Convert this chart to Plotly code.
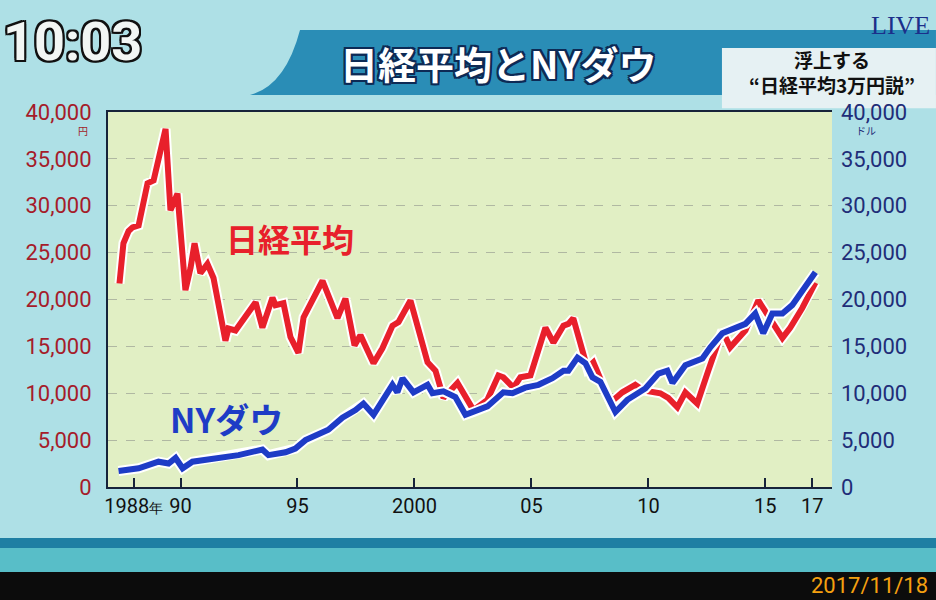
import plotly.graph_objects as go

# ---- data ----
nikkei_year = [1987.39, 1987.56, 1987.78, 1987.95, 1988.21, 1988.59, 1988.85, 1989.36, 1989.57, 1989.70,
               1989.87, 1990.21, 1990.43, 1990.60, 1990.85, 1991.15, 1991.41, 1991.92, 1992.05, 1992.35,
               1993.21, 1993.50, 1993.93, 1994.06, 1994.40, 1994.70, 1995.04, 1995.26, 1996.07, 1996.71,
               1997.05, 1997.44, 1997.69, 1998.25, 1998.63, 1999.06, 1999.32, 1999.83, 2000.56, 2000.90,
               2001.24, 2001.84, 2002.52, 2003.12, 2003.59, 2003.80, 2004.23, 2004.53, 2004.96, 2005.60,
               2005.94, 2006.37, 2006.58, 2006.79, 2007.39, 2007.65, 2008.38, 2008.89, 2009.44, 2009.79,
               2010.51, 2010.85, 2011.24, 2011.58, 2012.09, 2012.56, 2013.16, 2013.50, 2014.15, 2014.70,
               2015.00, 2015.30, 2015.73, 2016.07, 2016.58, 2017.14]
nikkei_value = [21700, 26000, 27300, 27700, 27900, 32400, 32700, 38200, 29500, 30500,
                31300, 21000, 23400, 26000, 22800, 23800, 22300, 15600, 16900, 16700,
                19700, 17000, 20200, 19400, 19600, 16000, 14300, 18100, 22000, 18000,
                20100, 15100, 16200, 13200, 14800, 17200, 17600, 19900, 13300, 12400,
                9500, 11100, 8200, 9300, 11900, 11700, 10600, 11700, 11900, 17000,
                15400, 17200, 17400, 18000, 12700, 13300, 9000, 10100, 10900, 10300,
                10000, 9500, 8500, 10100, 8900, 12400, 16700, 14900, 16700, 19900,
                18800, 17600, 15900, 17000, 19100, 21800]

dow_year = [1987.35, 1988.21, 1989.06, 1989.49, 1989.79, 1990.09, 1990.51, 1991.50, 1992.48, 1993.50,
            1993.76, 1994.49, 1994.91, 1995.34, 1995.90, 1996.32, 1996.92, 1997.48, 1997.82, 1998.25,
            1999.06, 1999.27, 1999.49, 1999.96, 2000.56, 2000.77, 2001.24, 2001.75, 2002.18, 2002.52,
            2003.12, 2003.80, 2004.19, 2004.74, 2005.30, 2005.90, 2006.37, 2006.58, 2006.97, 2007.31,
            2007.61, 2007.95, 2008.59, 2009.10, 2009.87, 2010.43, 2010.81, 2011.03, 2011.58, 2012.31,
            2012.65, 2013.16, 2013.72, 2014.15, 2014.57, 2014.91, 2015.30, 2015.73, 2016.15, 2016.62,
            2017.14]
dow_value = [1700, 2000, 2700, 2500, 3100, 2000, 2700, 3100, 3400, 4000,
             3400, 3700, 4100, 5000, 5700, 6100, 7400, 8200, 8900, 7700,
             10900, 10100, 11600, 10100, 10900, 10000, 10200, 9600, 7700, 8000,
             8600, 10100, 10000, 10600, 10900, 11600, 12400, 12400, 13800, 13200,
             11700, 11200, 8000, 9300, 10500, 12100, 12400, 11100, 13000, 13700,
             14900, 16400, 17000, 17400, 18500, 16400, 18500, 18500, 19400, 21000,
             22900]

x_tickvals = [1988, 1990, 1995, 2000, 2005, 2010, 2015, 2017]
x_ticktext = ["1988<span style='font-size:14px'>年</span>", "90", "95", "2000", "05", "10", "15", "17"]
y_tickvals = [0, 5000, 10000, 15000, 20000, 25000, 30000, 35000, 40000]
y_ticktext = ["0", "5,000", "10,000", "15,000", "20,000", "25,000", "30,000", "35,000", "40,000"]

RED = "#e8202b"
BLUE = "#1e3cc6"

fig = go.Figure()
fig.add_trace(go.Scatter(x=dow_year, y=dow_value, mode="lines", yaxis="y2",
                         line=dict(color="white", width=10), hoverinfo="skip", showlegend=False))
fig.add_trace(go.Scatter(x=dow_year, y=dow_value, mode="lines", yaxis="y2", name="NYダウ",
                         line=dict(color=BLUE, width=6), showlegend=False))
fig.add_trace(go.Scatter(x=nikkei_year, y=nikkei_value, mode="lines",
                         line=dict(color="white", width=10), hoverinfo="skip", showlegend=False))
fig.add_trace(go.Scatter(x=nikkei_year, y=nikkei_value, mode="lines", name="日経平均",
                         line=dict(color=RED, width=6), showlegend=False))

outline = ("-2px -2px 0 #0d2a55, 2px -2px 0 #0d2a55, -2px 2px 0 #0d2a55, 2px 2px 0 #0d2a55, "
           "0 -2px 0 #0d2a55, 0 2px 0 #0d2a55, -2px 0 0 #0d2a55, 2px 0 0 #0d2a55")
outline_dark = ("-2px -2px 0 #111, 2px -2px 0 #111, -2px 2px 0 #111, 2px 2px 0 #111, "
                "0 -2px 0 #111, 0 2px 0 #111, -2px 0 0 #111, 2px 0 0 #111")

shapes = [
    # title band
    dict(type="path", xref="paper", yref="paper", layer="below",
         path="M 0.2652,1.2187 L 1.1436,1.2187 L 1.1436,1.0453 L 0.1961,1.0453 Q 0.245,1.07 0.2652,1.2187 Z",
         fillcolor="#2a8db6", line=dict(width=0)),
    # right white caption box
    dict(type="rect", xref="paper", yref="paper", layer="below",
         x0=0.848, x1=1.1436, y0=1.01, y1=1.1707, fillcolor="#e6f1f3", line=dict(width=0)),
    # bottom stripes
    dict(type="rect", xref="paper", yref="paper", layer="below",
         x0=-0.15, x1=1.15, y0=-0.1627, y1=-0.136, fillcolor="#1e7fa3", line=dict(width=0)),
    dict(type="rect", xref="paper", yref="paper", layer="below",
         x0=-0.15, x1=1.15, y0=-0.2267, y1=-0.1627, fillcolor="#58bec8", line=dict(width=0)),
    dict(type="rect", xref="paper", yref="paper", layer="below",
         x0=-0.15, x1=1.15, y0=-0.31, y1=-0.2267, fillcolor="#0c0c0c", line=dict(width=0)),
]

annotations = [
    dict(text="日経平均", x=1994.7, y=26600, xref="x", yref="y", xanchor="center", yanchor="middle",
         showarrow=False, font=dict(family="Noto Sans CJK JP", size=32, color=RED, weight="bold")),
    dict(text="NYダウ", x=1991.95, y=7300, xref="x", yref="y", xanchor="center", yanchor="middle",
         showarrow=False, font=dict(family="Noto Sans CJK JP", size=34, color=BLUE, weight="bold")),
    dict(text="円", x=-0.025, y=0.952, xref="paper", yref="paper", xanchor="right", yanchor="middle",
         showarrow=False, font=dict(family="Noto Sans CJK JP", size=10, color="#a01b28")),
    dict(text="ドル", x=1.03, y=0.952, xref="paper", yref="paper", xanchor="left", yanchor="middle",
         showarrow=False, font=dict(family="Noto Sans CJK JP", size=10, color="#1f2d78")),
    dict(text="日経平均とNYダウ", x=0.54, y=1.133, xref="paper", yref="paper", xanchor="center", yanchor="middle",
         showarrow=False,
         font=dict(family="Noto Sans CJK JP", size=38, color="white", weight="bold", shadow=outline)),
    dict(text="10:03", x=-0.0497, y=1.187, xref="paper", yref="paper", xanchor="center", yanchor="middle",
         showarrow=False,
         font=dict(family="Roboto", size=54, color="#f2f6f4", weight="bold", shadow=outline_dark)),
    dict(text="LIVE", x=1.138, y=1.232, xref="paper", yref="paper", xanchor="right", yanchor="middle",
         showarrow=False, font=dict(family="Liberation Serif", size=26, color="#1b2f8a")),
    dict(text="浮上する", x=1.0, y=1.14, xref="paper", yref="paper", xanchor="center", yanchor="middle",
         showarrow=False, font=dict(family="Noto Sans CJK JP", size=19, color="#111", weight="bold")),
    dict(text="“日経平均3万円説”", x=1.0, y=1.074, xref="paper", yref="paper", xanchor="center", yanchor="middle",
         showarrow=False, font=dict(family="Noto Sans CJK JP", size=19, color="#111", weight="bold")),
    dict(text="2017/11/18", x=1.135, y=-0.262, xref="paper", yref="paper", xanchor="right", yanchor="middle",
         showarrow=False, font=dict(family="Roboto", size=22, color="#f5a010")),
]

fig.update_layout(
    width=936, height=600,
    margin=dict(l=108, r=104, t=112, b=113),
    paper_bgcolor="#aee0e6",
    plot_bgcolor="#e1efc4",
    shapes=shapes,
    annotations=annotations,
    showlegend=False,
    xaxis=dict(range=[1986.9, 2017.85], tickvals=x_tickvals, ticktext=x_ticktext,
               showgrid=False, zeroline=False, showline=True, mirror=True, linecolor="#17233a", linewidth=2,
               ticks="inside", ticklen=9, tickwidth=2, tickcolor="#17233a",
               tickfont=dict(family="Roboto", size=20, color="#111")),
    yaxis=dict(range=[0, 40000], tickvals=y_tickvals, ticktext=y_ticktext,
               showgrid=True, gridcolor="#b0b8a2", griddash="dash", gridwidth=1.3, zeroline=False,
               ticks="", ticklabelstandoff=10, showline=True, linecolor="#17233a", linewidth=2,
               tickfont=dict(family="Roboto", size=22, color="#a51c2a")),
    yaxis2=dict(range=[0, 40000], tickvals=y_tickvals, ticktext=y_ticktext, overlaying="y", side="right",
                showgrid=False, zeroline=False, ticks="", ticklabelstandoff=8,
                tickfont=dict(family="Roboto", size=22, color="#1f2d78")),
)

fig.write_html("out.html", config={"displayModeBar": False},
               post_script="document.body.style.margin='0';document.body.style.overflow='hidden';")
